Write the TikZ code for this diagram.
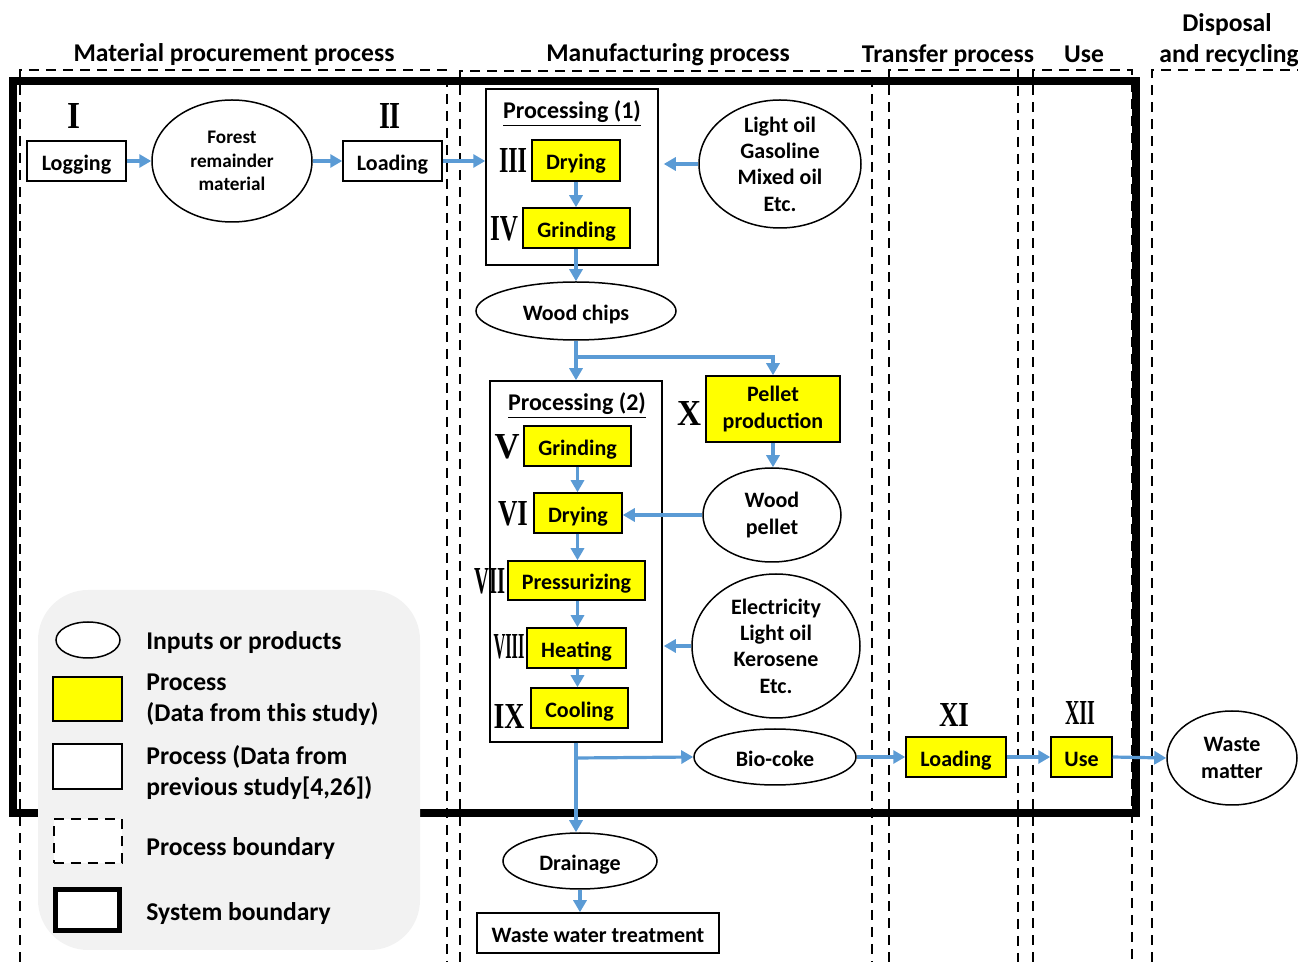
\documentclass[tikz,border=0pt]{standalone}
\usepackage{fontspec}
\setmainfont{Carlito}
\newfontfamily\rnfont{Liberation Serif}
\usepackage{graphicx}
\usetikzlibrary{arrows.meta,shapes.geometric}
\definecolor{arrowblue}{HTML}{5B9BD5}
\definecolor{leggray}{HTML}{F2F2F2}
\definecolor{procyellow}{HTML}{FFFF00}
\tikzset{
  one/.style={text height=0.95em, text depth=0.02em},
  ybox/.style={draw=black, line width=0.75pt, fill=procyellow, inner sep=0pt},
  wbox/.style={draw=black, line width=0.75pt, fill=white, inner sep=0pt},
  ell/.style={ellipse, draw=black, line width=0.75pt, fill=white, inner sep=0pt},
  arr/.style={draw=arrowblue, line width=1.6pt, -{Triangle[length=6pt,width=6.5pt]}},
  pbound/.style={draw=black, line width=1pt, dash pattern=on 5pt off 3.5pt},
  sysb/.style={draw=black, line width=4pt},
  hdr/.style={font=\bfseries\fontsize{12.8}{15.5}\selectfont, align=center, inner sep=0pt, one},
  lgd/.style={font=\bfseries\fontsize{12.8}{15.5}\selectfont, align=left, anchor=west, inner sep=0pt},
  rn/.style={inner sep=0pt, font=\rnfont\bfseries},
  lbl/.style={align=center, inner sep=0pt},
  ttl/.style={inner sep=0pt, font=\bfseries\fontsize{12}{14}\selectfont},
  small/.style={font=\bfseries\fontsize{9.6}{11.75}\selectfont}
}
\begin{document}
\begin{tikzpicture}[x=0.5pt,y=-0.5pt, font=\bfseries\fontsize{11}{13.2}\selectfont]
\useasboundingbox (0,0) rectangle (1298,962);

% process boundaries
\draw[pbound] (20,962) -- (20,70) -- (447,70) -- (447,962);
\draw[pbound] (460,962) -- (460,71) -- (872,71) -- (872,962);
\draw[pbound] (889,962) -- (889,70) -- (1018,70) -- (1018,962);
\draw[pbound] (1033,962) -- (1033,70) -- (1132,70) -- (1132,962);
\draw[pbound] (1152,962) -- (1152,70) -- (1310,70);

% system boundary
\draw[sysb] (13,81) rectangle (1136,813);

% headers
\node[hdr] (h1) at (234,52) {Material procurement process};
\node[hdr] (h2) at (668,52) {Manufacturing process};
\node[hdr] (h3) at (948,53) {Transfer process};
\node[hdr] (h4) at (1084,53) {Use};
\node[hdr] (h5) at (1227,22) {Disposal};
\node[hdr] (h6) at (1229,53) {and recycling};

% legend
\fill[leggray, rounded corners=25pt] (38,590) rectangle (420,950);
\node[ell, minimum width=32pt, minimum height=18pt] (lg1) at (88,640) {};
\node[ybox, minimum width=34.5pt, minimum height=22pt] (lg2) at (87.5,699) {};
\node[wbox, minimum width=34.5pt, minimum height=22.5pt] (lg3) at (87.5,766.5) {};
\node[pbound, fill=white, inner sep=0pt, minimum width=34pt, minimum height=22pt] (lg4) at (87.5,841.5) {};
\node[draw=black, line width=2.5pt, fill=white, inner sep=0pt, minimum width=32pt, minimum height=20.5pt] (lg5) at (87.5,910) {};
\node[lgd, one] (t1) at (146,640) {Inputs or products};
\node[lgd] (t2) at (146,699.5) {Process\\(Data from this study)};
\node[lgd] (t3) at (146,772.5) {Process (Data from\\previous study[4,26])};
\node[lgd, one] (t4) at (146,846) {Process boundary};
\node[lgd, one] (t5) at (146,911) {System boundary};

% material procurement
\node[wbox, one, minimum width=49.5pt, minimum height=20pt] (logging) at (76.5,161) {Logging};
\node[ell, minimum width=80pt, minimum height=61pt, label={[lbl,small]center:{Forest\\remainder\\material}}] (forest) at (232,161) {};
\node[wbox, one, minimum width=49.5pt, minimum height=20pt] (load1) at (392.5,161) {Loading};

% processing (1)
\node[wbox, minimum width=86pt, minimum height=88pt] (proc1) at (572,177) {};
\node[ttl] (p1t) at (572,114) {\underline{Processing (1)}};
\node[ybox, one, minimum width=44pt, minimum height=20.5pt] (dry1) at (576,160.5) {Drying};
\node[ybox, one, minimum width=53.5pt, minimum height=20pt] (grind1) at (576.5,228) {Grinding};
\node[ell, minimum width=81pt, minimum height=64pt, label={[lbl]center:{Light oil\\Gasoline\\Mixed oil\\Etc.}}] (lightoil) at (780,164) {};
\node[ell, one, minimum width=100pt, minimum height=29pt] (woodchips) at (576,311) {Wood chips};

% processing (2)
\node[wbox, minimum width=86pt, minimum height=180.5pt] (proc2) at (576,561.5) {};
\node[ttl] (p2t) at (577,406) {\underline{Processing (2)}};
\node[ybox, one, minimum width=53.5pt, minimum height=20pt] (grind2) at (577.5,446) {Grinding};
\node[ybox, one, minimum width=44pt, minimum height=20pt] (dry2) at (578,513) {Drying};
\node[ybox, one, minimum width=68.5pt, minimum height=19.5pt] (press) at (576.5,580.5) {Pressurizing};
\node[ybox, one, minimum width=49.5pt, minimum height=20pt] (heat) at (576.5,648) {Heating};
\node[ybox, one, minimum width=48.5pt, minimum height=20pt] (cool) at (579.5,708) {Cooling};
\node[ybox, minimum width=67pt, minimum height=33pt, align=center, font=\bfseries\fontsize{11}{13.5}\selectfont] (pellet) at (773,409) {Pellet\\production};
\node[ell, minimum width=69pt, minimum height=47pt, label={[lbl]center:{Wood\\pellet}}] (woodpellet) at (772,515) {};
\node[ell, minimum width=84pt, minimum height=72pt, label={[lbl]center:{Electricity\\Light oil\\Kerosene\\Etc.}}] (elec) at (776,646) {};
\node[ell, one, minimum width=81pt, minimum height=28pt] (biocoke) at (775,757) {Bio-coke};
\node[ell, one, minimum width=77pt, minimum height=28pt] (drainage) at (580,861) {Drainage};
\node[wbox, one, minimum width=121pt, minimum height=20pt] (wwt) at (598,933) {Waste water treatment};

% transfer, use, disposal
\node[ybox, one, minimum width=50pt, minimum height=20pt] (load2) at (956,757) {Loading};
\node[ybox, one, minimum width=30.5pt, minimum height=20pt] (use) at (1081.5,757) {Use};
\node[ell, minimum width=65pt, minimum height=47pt, label={[lbl]center:{Waste\\matter}}] (waste) at (1232,758) {};

% roman numerals
\node[rn] (r1) at (74,116) {\resizebox{6.5pt}{12.5pt}{I}};
\node[rn] (r2) at (390,116) {\resizebox{11pt}{12.5pt}{II}};
\node[rn] (r3) at (513,161) {\resizebox{14pt}{12pt}{III}};
\node[rn] (r4) at (504,229) {\resizebox{14pt}{12pt}{IV}};
\node[rn] (r5) at (507,447) {\resizebox{12.5pt}{12pt}{V}};
\node[rn] (r6) at (513,514) {\resizebox{15pt}{12pt}{VI}};
\node[rn] (r7) at (490,581) {\resizebox{15.5pt}{12.5pt}{VII}};
\node[rn] (r8) at (509,647) {\resizebox{15.5pt}{12pt}{VIII}};
\node[rn] (r9) at (509,717) {\resizebox{15.5pt}{12pt}{IX}};
\node[rn] (r10) at (689,414) {\resizebox{12pt}{12pt}{X}};
\node[rn] (r11) at (954,715) {\resizebox{15pt}{11.5pt}{XI}};
\node[rn] (r12) at (1080,713) {\resizebox{15pt}{11.5pt}{XII}};

% junctions
\coordinate (j1) at (576,357);
\coordinate (j2) at (577,758);

% connectors
\draw[arr] (logging.east) -- (forest.west);
\draw[arr] (forest.east) -- (load1.west);
\draw[arr] (load1.east) -- (load1.east -| proc1.west);
\draw[arr] (lightoil.west) -- ([xshift=2.5pt]lightoil.west -| proc1.east);
\draw[arr] (dry1.south) -- (grind1.north -| dry1.south);
\draw[arr] (grind1.south -| woodchips.north) -- (woodchips.north);
\draw[arr] (woodchips.south) -- (proc2.north);
\draw[arr] (j1) -| (pellet.north);
\draw[arr] (grind2.south) -- (grind2.south |- dry2.north);
\draw[arr] (grind2.south |- dry2.south) -- (grind2.south |- press.north);
\draw[arr] (grind2.south |- press.south) -- (grind2.south |- heat.north);
\draw[arr] (grind2.south |- heat.south) -- (grind2.south |- cool.north);
\draw[arr] (pellet.south) -- (pellet.south |- woodpellet.north);
\draw[arr] (woodpellet.west) -- (woodpellet.west -| dry2.east);
\draw[arr] (elec.west) -- ([xshift=0.5pt]elec.west -| proc2.east);
\draw[arr] (proc2.south) -- (proc2.south |- drainage.north);
\draw[arr] (j2) -- (biocoke.west);
\draw[arr] (drainage.south) -- (drainage.south |- wwt.north);
\draw[arr] (biocoke.east) -- (load2.west);
\draw[arr] (load2.east) -- (use.west);
\draw[arr] (use.east) -- (waste.west);
\end{tikzpicture}
\end{document}
